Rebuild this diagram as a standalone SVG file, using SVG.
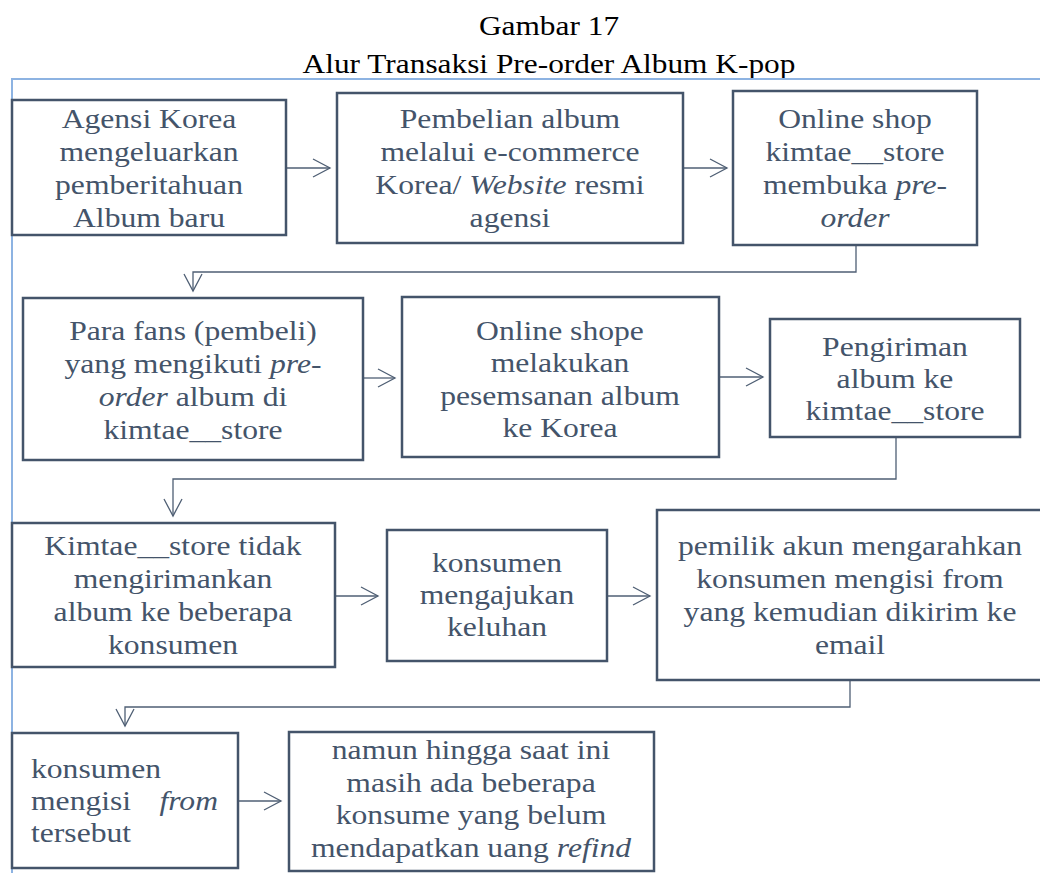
<svg xmlns="http://www.w3.org/2000/svg" width="1040" height="873" viewBox="0 0 1040 873">
<style>
.box{fill:#fff;stroke:#44546a;stroke-width:2.5}
.t{font-family:"Liberation Serif","Times New Roman",serif;font-size:28px;fill:#44546a;text-anchor:middle}
.tl{font-family:"Liberation Serif","Times New Roman",serif;font-size:28px;fill:#44546a}
.ttl{font-family:"Liberation Serif","Times New Roman",serif;font-size:28px;fill:#000;text-anchor:middle}
.i{font-style:italic}
.c{fill:none;stroke:#4f5f74;stroke-width:1.3;marker-end:url(#arr)}
.frame{fill:none;stroke:#8db3e2;stroke-width:2}
</style>
<defs>
<marker id="arr" viewBox="0 0 20 20" markerWidth="20" markerHeight="20" refX="18" refY="10" orient="auto" markerUnits="userSpaceOnUse">
<path d="M1,1 L18,10 L1,19" fill="none" stroke="#4f5f74" stroke-width="1.3"/>
</marker>
</defs>
<rect width="1040" height="873" fill="#fff"/>
<g id="title">
<text class="ttl" transform="matrix(1.12 0 0 1 549 0)"><tspan x="0" y="35">Gambar 17</tspan><tspan x="0" y="73">Alur Transaksi Pre-order Album K-pop</tspan></text>
</g>
<path class="frame" d="M1040,79 H12 V873"/>
<g id="connectors">
<path class="c" d="M286,168 H330"/>
<path class="c" d="M683,168 H727"/>
<path class="c" d="M856,245 V272 H193 V291"/>
<path class="c" d="M363,378 H395"/>
<path class="c" d="M719,377 H763"/>
<path class="c" d="M896,437 V479 H173 V516"/>
<path class="c" d="M335,596 H378"/>
<path class="c" d="M607,596 H650"/>
<path class="c" d="M850,680 V707 H125 V726"/>
<path class="c" d="M238,801 H281"/>
</g>
<g id="n1">
<rect class="box" x="12" y="100" width="274" height="135"/>
<text class="t" transform="matrix(1.13 0 0 1 149 0)"><tspan x="0" y="128">Agensi Korea</tspan><tspan x="0" y="161">mengeluarkan</tspan><tspan x="0" y="194">pemberitahuan</tspan><tspan x="0" y="227">Album baru</tspan></text>
</g>
<g id="n2">
<rect class="box" x="337" y="93" width="346" height="150"/>
<text class="t" transform="matrix(1.13 0 0 1 510 0)"><tspan x="0" y="128">Pembelian album</tspan><tspan x="0" y="161">melalui e-commerce</tspan><tspan x="0" y="194">Korea/ <tspan class="i">Website</tspan> resmi</tspan><tspan x="0" y="227">agensi</tspan></text>
</g>
<g id="n3">
<rect class="box" x="733" y="91" width="244" height="154"/>
<text class="t" transform="matrix(1.13 0 0 1 855 0)"><tspan x="0" y="128">Online shop</tspan><tspan x="0" y="161">kimtae__store</tspan><tspan x="0" y="194">membuka <tspan class="i">pre-</tspan></tspan><tspan x="0" y="227" class="i">order</tspan></text>
</g>
<g id="n4">
<rect class="box" x="23" y="298" width="340" height="162"/>
<text class="t" transform="matrix(1.13 0 0 1 193 0)"><tspan x="0" y="340">Para fans (pembeli)</tspan><tspan x="0" y="373">yang mengikuti <tspan class="i">pre-</tspan></tspan><tspan x="0" y="406"><tspan class="i">order</tspan> album di</tspan><tspan x="0" y="439">kimtae__store</tspan></text>
</g>
<g id="n5">
<rect class="box" x="402" y="297" width="317" height="160"/>
<text class="t" transform="matrix(1.13 0 0 1 560 0)"><tspan x="0" y="340">Online shope</tspan><tspan x="0" y="372">melakukan</tspan><tspan x="0" y="405">pesemsanan album</tspan><tspan x="0" y="437">ke Korea</tspan></text>
</g>
<g id="n6">
<rect class="box" x="770" y="319" width="250" height="118"/>
<text class="t" transform="matrix(1.13 0 0 1 895 0)"><tspan x="0" y="356">Pengiriman</tspan><tspan x="0" y="388">album ke</tspan><tspan x="0" y="420">kimtae__store</tspan></text>
</g>
<g id="n7">
<rect class="box" x="12" y="523" width="323" height="144"/>
<text class="t" transform="matrix(1.13 0 0 1 173 0)"><tspan x="0" y="555">Kimtae__store tidak</tspan><tspan x="0" y="588">mengirimankan</tspan><tspan x="0" y="621">album ke beberapa</tspan><tspan x="0" y="654">konsumen</tspan></text>
</g>
<g id="n8">
<rect class="box" x="387" y="530" width="220" height="131"/>
<text class="t" transform="matrix(1.13 0 0 1 497 0)"><tspan x="0" y="572">konsumen</tspan><tspan x="0" y="604">mengajukan</tspan><tspan x="0" y="636">keluhan</tspan></text>
</g>
<g id="n9">
<rect class="box" x="657" y="510" width="390" height="170"/>
<text class="t" transform="matrix(1.13 0 0 1 850 0)"><tspan x="0" y="555">pemilik akun mengarahkan</tspan><tspan x="0" y="588">konsumen mengisi from</tspan><tspan x="0" y="621">yang kemudian dikirim ke</tspan><tspan x="0" y="654">email</tspan></text>
</g>
<g id="n10">
<rect class="box" x="12" y="733" width="226" height="135"/>
<text class="tl" transform="matrix(1.13 0 0 1 31 0)"><tspan x="0" y="778">konsumen</tspan><tspan x="0" y="810">mengisi</tspan><tspan x="0" y="842">tersebut</tspan></text>
<text class="tl i" transform="matrix(1.13 0 0 1 218 0)" text-anchor="end" x="0" y="810">from</text>
</g>
<g id="n11">
<rect class="box" x="289" y="732" width="365" height="139"/>
<text class="t" transform="matrix(1.13 0 0 1 471 0)"><tspan x="0" y="759">namun hingga saat ini</tspan><tspan x="0" y="792">masih ada beberapa</tspan><tspan x="0" y="824">konsume yang belum</tspan><tspan x="0" y="857">mendapatkan uang <tspan class="i">refind</tspan></tspan></text>
</g>
</svg>
